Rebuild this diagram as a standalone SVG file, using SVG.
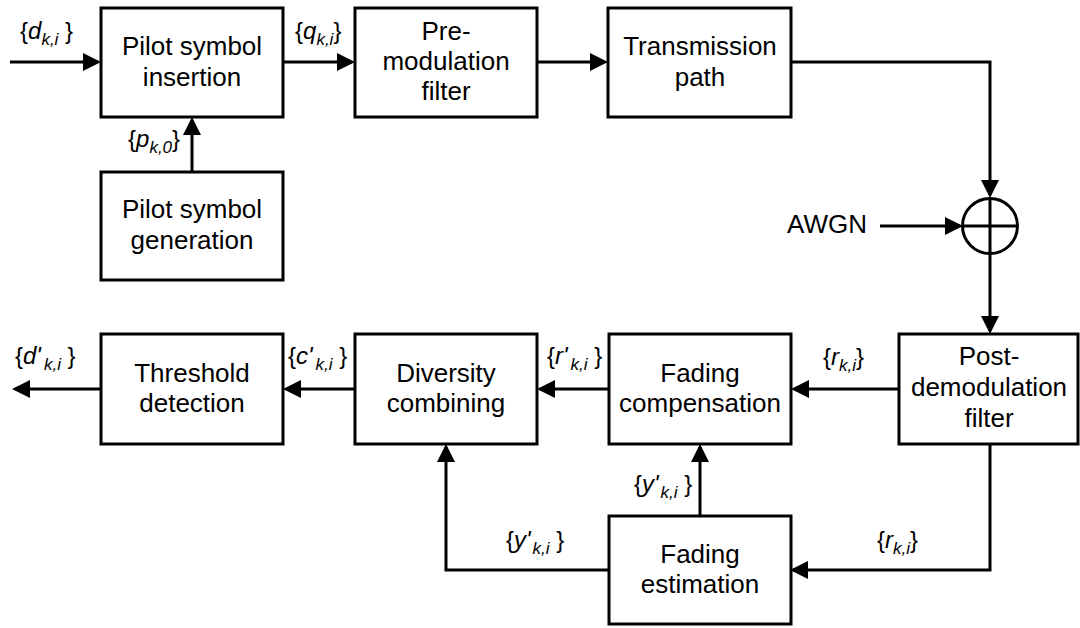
<svg xmlns="http://www.w3.org/2000/svg" width="1080" height="628" viewBox="0 0 1080 628">
<style>
.box{fill:#fff;stroke:#000;stroke-width:3}
.txt{font-family:"Liberation Sans",Arial,sans-serif;font-size:26px;fill:#000;text-anchor:middle}
.lbl{font-family:"Liberation Sans",Arial,sans-serif;font-size:24px;fill:#000}
.it{font-style:italic}
.sub{font-style:italic;font-size:17px}
.wire{fill:none;stroke:#000;stroke-width:3}
.arr{fill:none;stroke:#000;stroke-width:3;marker-end:url(#ah)}
</style>
<defs>
<marker id="ah" markerUnits="userSpaceOnUse" markerWidth="18" markerHeight="18" refX="15" refY="9" orient="auto">
<path d="M0,0 L18,9 L0,18 Z" fill="#000"/>
</marker>
</defs>
<rect width="1080" height="628" fill="#fff"/>
<g id="connectors">
<path class="arr" d="M10,62 H98"/>
<path class="arr" d="M283,62 H352"/>
<path class="arr" d="M537,62 H605"/>
<path class="arr" d="M192,172 V120"/>
<path class="arr" d="M791,62 H990 V195"/>
<path class="arr" d="M880,226 H960"/>
<path class="arr" d="M990,254 V331"/>
<path class="arr" d="M899,389 H794"/>
<path class="arr" d="M609,389 H540"/>
<path class="arr" d="M355,389 H286"/>
<path class="arr" d="M100,389 H15"/>
<path class="arr" d="M990,444 V570 H793"/>
<path class="arr" d="M609,570 H446 V447"/>
<path class="arr" d="M700,516 V447"/>
</g>
<g id="labels">
<text class="lbl" x="20" y="39">{<tspan class="it">d</tspan><tspan class="sub" dy="6">k,i</tspan><tspan dy="-6"> }</tspan></text>
<text class="lbl" x="295" y="39">{<tspan class="it">q</tspan><tspan class="sub" dy="6">k,i</tspan><tspan dy="-6">}</tspan></text>
<text class="lbl" x="128" y="147">{<tspan class="it">p</tspan><tspan class="sub" dy="6">k,0</tspan><tspan dy="-6">}</tspan></text>
<text class="lbl" x="15" y="364">{<tspan class="it">d'</tspan><tspan class="sub" dx="3" dy="6">k,i</tspan><tspan dy="-6"> }</tspan></text>
<text class="lbl" x="288" y="364">{<tspan class="it">c'</tspan><tspan class="sub" dx="3" dy="6">k,i</tspan><tspan dy="-6"> }</tspan></text>
<text class="lbl" x="547" y="364">{<tspan class="it">r'</tspan><tspan class="sub" dx="3" dy="6">k,i</tspan><tspan dy="-6"> }</tspan></text>
<text class="lbl" x="823" y="365">{<tspan class="it">r</tspan><tspan class="sub" dy="6">k,i</tspan><tspan dy="-6">}</tspan></text>
<text class="lbl" x="634" y="492">{<tspan class="it">y'</tspan><tspan class="sub" dx="2" dy="6">k,i</tspan><tspan dy="-6"> }</tspan></text>
<text class="lbl" x="506" y="548">{<tspan class="it">y'</tspan><tspan class="sub" dx="2" dy="6">k,i</tspan><tspan dy="-6"> }</tspan></text>
<text class="lbl" x="877" y="548">{<tspan class="it">r</tspan><tspan class="sub" dy="6">k,i</tspan><tspan dy="-6">}</tspan></text>
<text class="txt" x="787" y="233" style="text-anchor:start">AWGN</text>
</g>
<g id="pilot-insertion">
<rect class="box" x="101" y="8" width="182" height="109"/>
<text class="txt" x="192" y="55">Pilot symbol</text>
<text class="txt" x="192" y="86">insertion</text>
</g>
<g id="pre-modulation">
<rect class="box" x="355" y="8" width="182" height="109"/>
<text class="txt" x="446" y="40">Pre-</text>
<text class="txt" x="446" y="70">modulation</text>
<text class="txt" x="446" y="100">filter</text>
</g>
<g id="transmission">
<rect class="box" x="608" y="8" width="183" height="109"/>
<text class="txt" x="700" y="55">Transmission</text>
<text class="txt" x="700" y="86">path</text>
</g>
<g id="pilot-generation">
<rect class="box" x="101" y="172" width="182" height="108"/>
<text class="txt" x="192" y="218">Pilot symbol</text>
<text class="txt" x="192" y="249">generation</text>
</g>
<g id="adder">
<circle cx="990" cy="226" r="27.5" fill="#fff" stroke="#000" stroke-width="3"/>
<path class="wire" d="M962.5,226 H1017.5 M990,198.5 V253.5"/>
</g>
<g id="post-demodulation">
<rect class="box" x="899" y="334" width="179" height="110"/>
<text class="txt" x="989" y="365">Post-</text>
<text class="txt" x="989" y="396">demodulation</text>
<text class="txt" x="989" y="427">filter</text>
</g>
<g id="fading-compensation">
<rect class="box" x="609" y="334" width="182" height="110"/>
<text class="txt" x="700" y="382">Fading</text>
<text class="txt" x="700" y="412">compensation</text>
</g>
<g id="diversity">
<rect class="box" x="355" y="334" width="182" height="110"/>
<text class="txt" x="446" y="382">Diversity</text>
<text class="txt" x="446" y="412">combining</text>
</g>
<g id="threshold">
<rect class="box" x="101" y="334" width="182" height="110"/>
<text class="txt" x="192" y="382">Threshold</text>
<text class="txt" x="192" y="412">detection</text>
</g>
<g id="fading-estimation">
<rect class="box" x="609" y="516" width="182" height="108"/>
<text class="txt" x="700" y="563">Fading</text>
<text class="txt" x="700" y="593">estimation</text>
</g>
</svg>
